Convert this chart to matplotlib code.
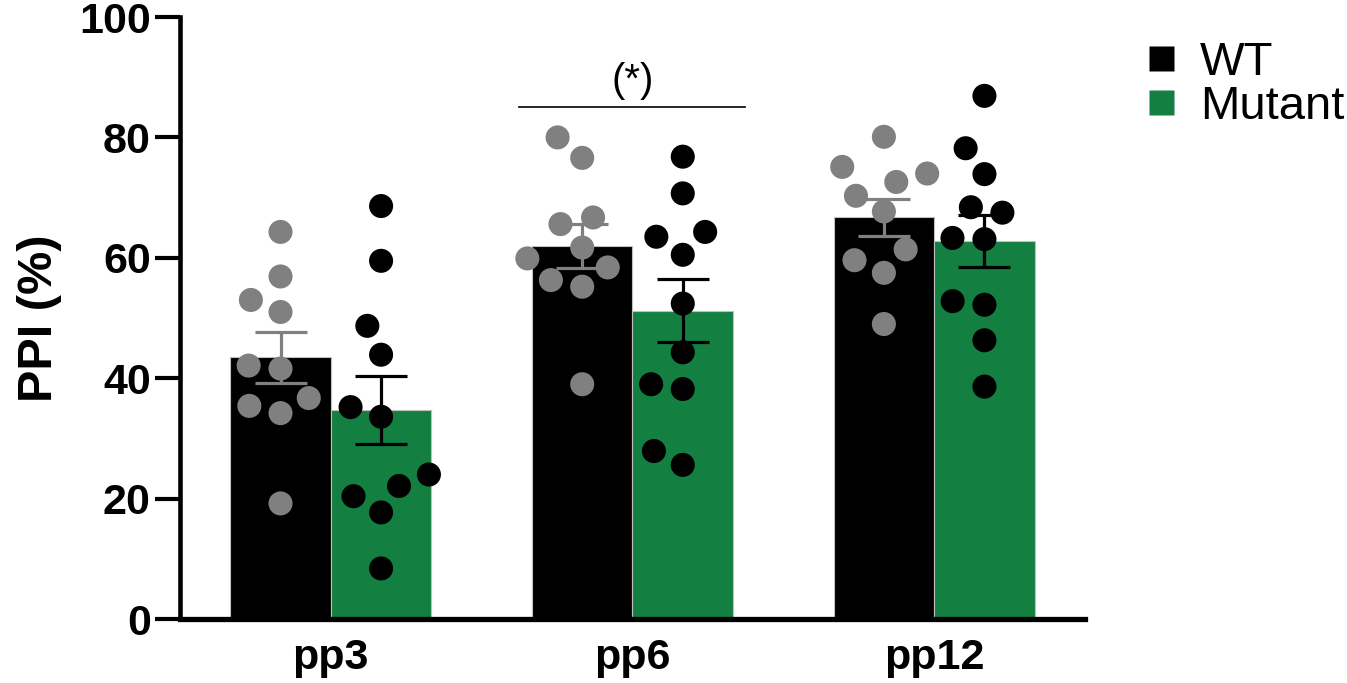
import numpy as np
import matplotlib
matplotlib.use("Agg")
import matplotlib.pyplot as plt
from matplotlib.lines import Line2D

plt.rcParams["font.family"] = ["Liberation Sans", "DejaVu Sans"]

conditions = ["pp3", "pp6", "pp12"]
groups = ["WT", "Mutant"]

wt_values = [
    [64.3, 56.9, 53.0, 51.0, 41.6, 42.1, 36.7, 35.4, 34.2, 19.2],
    [76.6, 80.0, 66.7, 65.6, 61.7, 58.4, 59.9, 55.2, 56.3, 39.0],
    [80.1, 74.0, 72.6, 75.1, 70.3, 67.7, 61.4, 59.6, 57.5, 49.0],
]
mutant_values = [
    [68.6, 59.5, 48.7, 43.9, 33.6, 35.2, 24.0, 22.1, 20.4, 17.7, 8.4],
    [76.8, 70.7, 64.3, 63.5, 60.5, 52.4, 44.3, 38.2, 39.0, 25.6, 27.9],
    [86.9, 78.2, 73.9, 67.5, 68.4, 63.1, 63.3, 52.2, 52.8, 46.3, 38.6],
]

BAR_COLORS = ["#000000", "#137f40"]
DOT_COLORS = ["#808080", "#000000"]
ERR_COLORS = ["#808080", "#000000"]
BAR_W = 1 / 3
DOT_D = 32.0  # min spacing between dot centres in pixels for the swarm


def mean_sem(vals):
    v = np.asarray(vals)
    return v.mean(), v.std(ddof=1) / np.sqrt(len(v))


def swarm_offsets(vals, px_x, px_y, d=DOT_D):
    # simple beeswarm: place each point as close to the center as possible
    order = np.argsort(vals)
    placed = []
    offs = np.zeros(len(vals))
    for i in order:
        y = vals[i] * px_y
        cands = [0.0]
        for (xj, yj) in placed:
            dy = abs(y - yj)
            if dy < d:
                dx = np.sqrt(d * d - dy * dy)
                cands += [xj - dx, xj + dx]
        cands.sort(key=lambda c: (abs(c), c))
        for c in cands:
            if all((c - xj) ** 2 + (y - yj) ** 2 >= d * d - 1e-6 for xj, yj in placed):
                offs[i] = c
                placed.append((c, y))
                break
    return offs / px_x


fig = plt.figure(figsize=(13.47, 6.83), dpi=100)
ax = fig.add_axes([0.1336, 0.0937, 0.8055 - 0.1336, 0.9751 - 0.0937])
ax.set_xlim(-0.5, 2.5)
ax.set_ylim(0, 100)

# pixel scale of data units, used for the swarm layout
p0 = ax.transData.transform((0, 0))
p1 = ax.transData.transform((1, 1))
px_x, px_y = p1[0] - p0[0], p1[1] - p0[1]

x = np.arange(len(conditions))
for g, data in enumerate([wt_values, mutant_values]):
    pos = x + (g - 0.5) * BAR_W
    stats = [mean_sem(v) for v in data]
    means = [s[0] for s in stats]
    sems = [s[1] for s in stats]
    ax.bar(pos, means, width=BAR_W, color=BAR_COLORS[g], edgecolor="#bfbfbf",
           linewidth=0.8, zorder=1)
    for k, vals in enumerate(data):
        vals = np.asarray(vals)
        offs = swarm_offsets(vals, px_x, px_y)
        ax.scatter(pos[k] + offs, vals, s=300, color=DOT_COLORS[g],
                   edgecolor="none", zorder=3, clip_on=False)
    ax.errorbar(pos, means, yerr=sems, fmt="none", ecolor=ERR_COLORS[g],
                elinewidth=2.3, capsize=19, capthick=2.3, zorder=4)

# significance annotation over pp6
ax.plot([0.625, 1.372], [85.0, 85.0], color="black", lw=1.2, zorder=5)
ax.text(1.0, 86.2, "(*)", ha="center", va="bottom", fontsize=29)

for side in ["top", "right"]:
    ax.spines[side].set_visible(False)
ax.spines["left"].set_linewidth(3.3)
ax.spines["bottom"].set_linewidth(3.8)

ax.set_yticks([0, 20, 40, 60, 80, 100])
ax.set_xticks(x)
ax.set_xticklabels(conditions)
ax.tick_params(axis="y", length=18, width=3, pad=3, labelsize=31)
ax.tick_params(axis="x", length=0, pad=14, labelsize=31)
for lab in ax.get_xticklabels() + ax.get_yticklabels():
    lab.set_fontweight("bold")
ax.set_ylabel("PPI (%)", fontsize=35, fontweight="bold", labelpad=12)

handles = [Line2D([], [], marker="s", linestyle="none", markersize=18,
                  markerfacecolor=c, markeredgecolor="none") for c in BAR_COLORS]
fig.legend(handles, groups, loc="upper left", bbox_to_anchor=(0.831, 0.975),
           frameon=False, fontsize=34, handletextpad=0.45, labelspacing=0.0,
           borderpad=0, handlelength=0.75)

fig.savefig("out.png", dpi=100)
